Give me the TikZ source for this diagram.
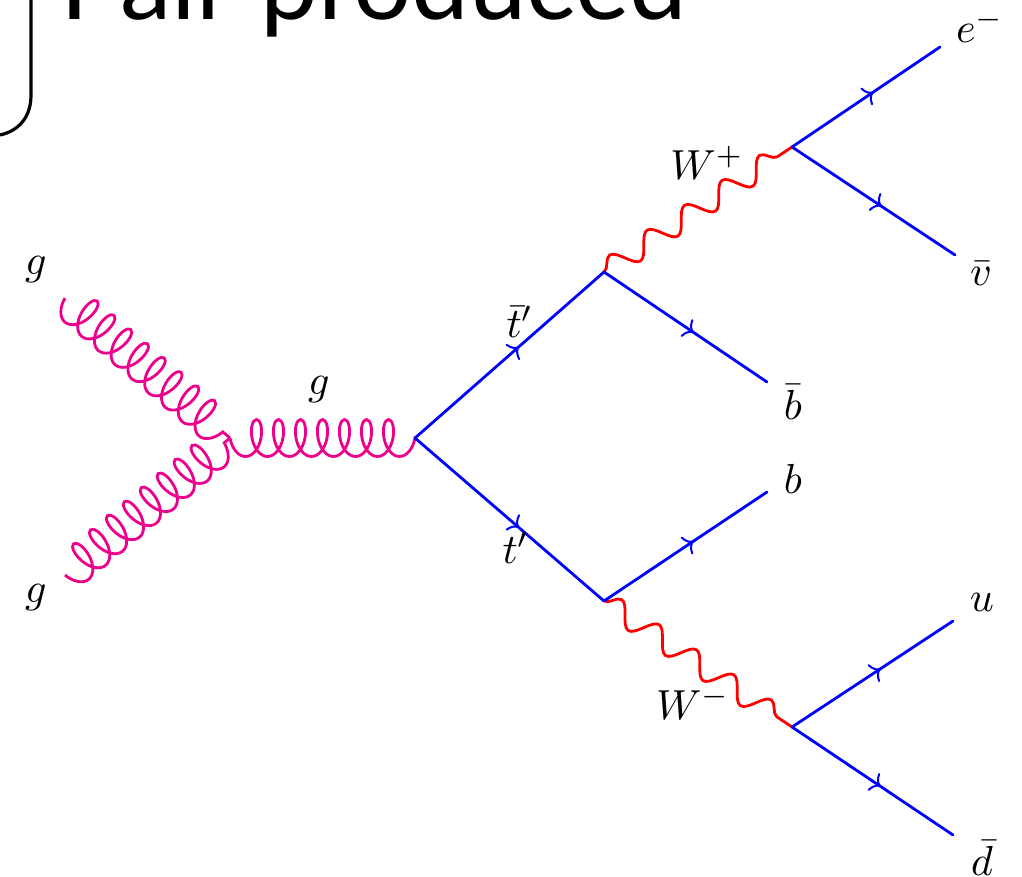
\documentclass[tikz,border=0pt]{standalone}
\usepackage{fontspec}
\newfontfamily\titlefont{Lato}
\usetikzlibrary{decorations.pathmorphing,decorations.markings,arrows.meta}
\definecolor{gluon}{HTML}{EC008C}
\tikzset{
  x=1pt,y=-1pt,
  fermion/.style={draw=blue,line width=2.8pt,line cap=round,postaction={decorate},
    decoration={markings,mark=at position 0.55 with {\arrow[blue]{Computer Modern Rightarrow[length=9pt,width=21pt,line width=2pt]}}}},
  boson/.style={draw=red,line width=2.8pt,decorate,decoration={snake,amplitude=11pt,segment length=45pt}},
  gluonline/.style={draw=gluon,line width=2.8pt,decorate,decoration={coil,mirror,amplitude=18.5pt,segment length=22pt,aspect=0.54}},
  lab/.style={inner sep=0pt,scale=4.2}
}
\begin{document}
\begin{tikzpicture}
\useasboundingbox (0,0) rectangle (1022,876);
\begin{scope}
\clip (0,0) rectangle (1022,876);
\node[inner sep=0pt,anchor=base west,font=\fontsize{103}{120}\titlefont] (title) at (60,19) {Pair produced};
\draw[line width=3.2pt] (31,-5) -- (31,95) .. controls (31,118) and (18,131) .. (0,135);
\end{scope}
\coordinate (ga) at (65,298);
\coordinate (gb) at (65,575);
\coordinate (j) at (230,438);
\coordinate (v0) at (415,438);
\coordinate (v1) at (604,272);
\coordinate (v2) at (604,601);
\coordinate (wp) at (792,147);
\coordinate (wm) at (792,727);
\coordinate (em) at (940,47);
\coordinate (nu) at (955,255);
\coordinate (bb) at (767,382);
\coordinate (bq) at (767,492);
\coordinate (uq) at (953,621);
\coordinate (dq) at (953,835);
\path[gluonline] (ga) -- (j);
\path[gluonline] (gb) -- (j);
\path[gluonline] (j) -- (v0);
\path[boson] (v1) -- (wp);
\path[boson] (v2) -- (wm);
\path[fermion] (v0) -- (v1);
\path[fermion] (v0) -- (v2);
\path[fermion] (v1) -- (bb);
\path[fermion] (v2) -- (bq);
\path[fermion] (wp) -- (em);
\path[fermion] (wp) -- (nu);
\path[fermion] (wm) -- (uq);
\path[fermion] (wm) -- (dq);
\node[lab] (l1) at (36,270) {$g$};
\node[lab] (l2) at (36,598) {$g$};
\node[lab] (l3) at (319,390) {$g$};
\node[lab] (l4) at (520,322) {$\bar t'$};
\node[lab] (l5) at (516,548) {$t'$};
\node[lab] (l6) at (707,163) {$W^+$};
\node[lab] (l7) at (693,703) {$W^-$};
\node[lab] (l8) at (980,26) {$e^-$};
\node[lab] (l9) at (981,274) {$\bar v$};
\node[lab] (l10) at (793,402) {$\bar b$};
\node[lab] (l11) at (793,479) {$b$};
\node[lab] (l12) at (982,602) {$u$};
\node[lab] (l13) at (982,858) {$\bar d$};
\end{tikzpicture}
\end{document}
